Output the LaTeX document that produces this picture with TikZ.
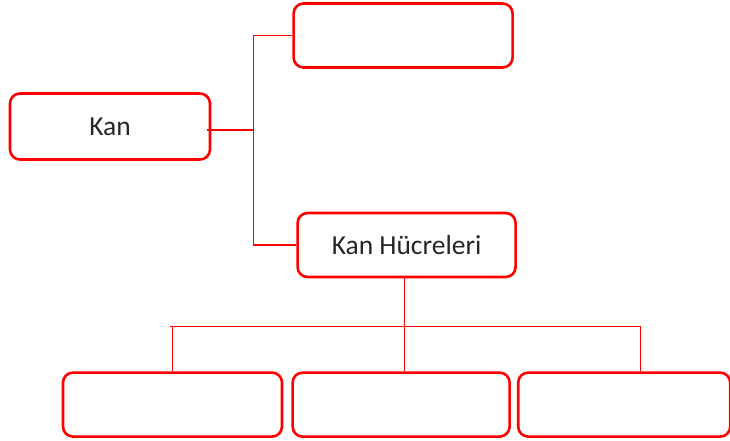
\documentclass[tikz,border=0pt]{standalone}
\usepackage{fontspec}
\setmainfont{Carlito}
\usetikzlibrary{positioning}

\begin{document}
\begin{tikzpicture}[x=1pt,y=1pt,
		kutu/.style={draw=red,line width=2.6pt,rounded corners=10pt,minimum width=218pt,minimum height=64pt,inner sep=0pt,text=black!85,font=\fontsize{27.5}{32}\selectfont},
		bag/.style={draw=red,line width=1.3pt}]
				\useasboundingbox (0,0) rectangle (730,-441);
				\node[kutu,minimum width=200pt,minimum height=66pt](kan) at (110,-126.5){Kan};
				\node[kutu,minimum width=219pt,right=81pt of kan.east,yshift=91pt](ust){};
				\node[kutu,right=85pt of kan.east,yshift=-118.5pt](hucre){Kan H\"ucreleri};
				\node[kutu,minimum width=217pt,below=93pt of hucre.south,xshift=-5.5pt](alt2){};
				\node[kutu,minimum width=219pt,left=8pt of alt2](alt1){};
				\node[kutu,minimum width=212pt,right=6pt of alt2](alt3){};
				\coordinate[right=42pt of kan.east,yshift=-3.5pt](k1);
				\coordinate[below=48pt of hucre.south,xshift=-2pt](k2);

				\draw[draw=red,line width=2.6pt] ([xshift=-4pt,yshift=-3.5pt]kan.east) to (k1);
				\draw[bag] (k1) |- (ust.west);
				\draw[bag] (k1) |- (hucre.west);
				\draw[bag] (hucre.south -| k2) to (k2);
				\draw[bag] (k2) to (alt2.north -| k2);
				\draw[bag] (alt1.north) |- ([xshift=-3pt]k2 -| alt1.north);
				\draw[bag] (alt1.north |- k2) -| ([xshift=16pt]alt3.north);
			\end{tikzpicture}
\end{document}
